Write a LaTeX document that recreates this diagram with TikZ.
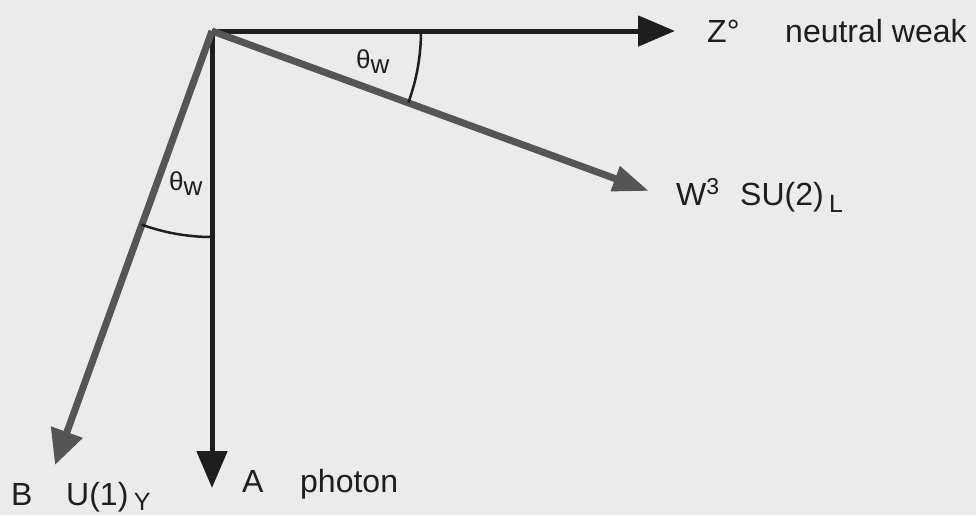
\documentclass[tikz,border=0pt]{standalone}
\usepackage{fontspec}
\setmainfont{Liberation Sans}
\usetikzlibrary{arrows.meta}
\definecolor{bg}{HTML}{EBEBEB}
\definecolor{hatch}{HTML}{555555}
\definecolor{ink}{HTML}{1E1E1E}
\begin{document}
\begin{tikzpicture}[x=1pt,y=-1pt,
  solidvec/.style={draw=ink, line width=5pt, -{Triangle[length=37pt,width=30pt]}},
  hatchvec/.style={draw=hatch, line width=7pt},
  lbl/.style={inner sep=0pt, anchor=base west, text=ink, font=\fontsize{32}{36}\selectfont},
  anglbl/.style={inner sep=0pt, anchor=base west, text=ink, font=\fontsize{26}{30}\selectfont},
  angarc/.style={draw=ink, line width=2.5pt}
]
\fill[bg] (0,0) rectangle (976,515);
\useasboundingbox (0,0) rectangle (976,515);
\coordinate (O) at (212,31);
\coordinate (Zt) at (675,31);
\coordinate (At) at (212,488);
\coordinate (Wt) at (649,191);
\coordinate (Bt) at (55,465);
% solid axes
\draw[solidvec] (O) -- (Zt);
\draw[solidvec] (O) -- (At);
% hatched vectors
\draw[hatchvec, -{Triangle[length=36pt,width=25pt]}] (O) -- (Wt);
\draw[hatchvec, -{Triangle[length=35pt,width=32pt]}] (O) -- (Bt);
% angle arcs
\draw[angarc] (421,31) arc[start angle=0, end angle=20, radius=209];
\draw[angarc] (212,237) arc[start angle=90, end angle=110, radius=206];
% angle labels
\node[anglbl] (thtop) at (356,68) {θ\raisebox{-5pt}{w}};
\node[anglbl] (thlow) at (169,190) {θ\raisebox{-5pt}{w}};
% labels
\node[lbl] (zsym) at (707,42) {Z°};
\node[lbl] (zname) at (785,42) {neutral weak};
\node[lbl] (wsym) at (676,205) {W\raisebox{11pt}{\fontsize{23}{26}\selectfont 3}};
\node[lbl] (wgrp) at (740,205) {SU(2)\,\raisebox{-7pt}{\fontsize{25}{28}\selectfont L}};
\node[lbl] (asym) at (242,492) {A};
\node[lbl] (aname) at (300,492) {photon};
\node[lbl] (bsym) at (11,505) {B};
\node[lbl] (bgrp) at (66,505) {U(1)\,\raisebox{-5pt}{\fontsize{25}{28}\selectfont Y}};
\end{tikzpicture}
\end{document}
